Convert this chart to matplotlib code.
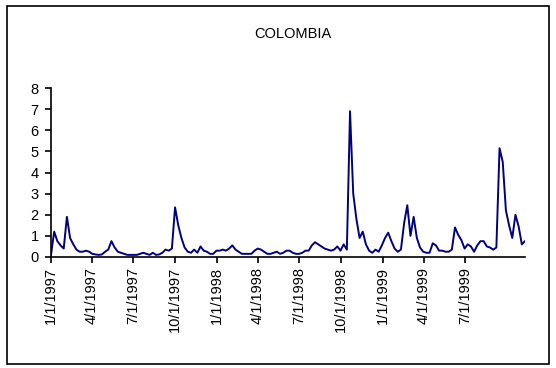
import numpy as np
import pandas as pd
import matplotlib
matplotlib.use("Agg")
import matplotlib.pyplot as plt
import matplotlib.dates as mdates
from matplotlib.patches import Rectangle

plt.rcParams['font.family'] = ['Liberation Sans', 'DejaVu Sans']

# weekly series
start_date = "1997-01-01"
values = [
    0.1, 1.2, 0.75, 0.55, 0.4, 1.9, 0.9, 0.6, 0.35, 0.25,
    0.25, 0.3, 0.25, 0.15, 0.12, 0.1, 0.12, 0.25, 0.35, 0.75,
    0.45, 0.25, 0.2, 0.15, 0.1, 0.1, 0.1, 0.1, 0.15, 0.2,
    0.15, 0.1, 0.2, 0.1, 0.12, 0.2, 0.35, 0.3, 0.4, 2.35,
    1.5, 0.9, 0.45, 0.25, 0.2, 0.35, 0.2, 0.5, 0.3, 0.25,
    0.15, 0.15, 0.3, 0.3, 0.35, 0.3, 0.4, 0.55, 0.35, 0.25,
    0.15, 0.15, 0.15, 0.15, 0.3, 0.4, 0.35, 0.25, 0.15, 0.15,
    0.2, 0.25, 0.15, 0.2, 0.3, 0.3, 0.2, 0.15, 0.15, 0.2,
    0.3, 0.3, 0.55, 0.7, 0.6, 0.5, 0.4, 0.35, 0.3, 0.35,
    0.5, 0.3, 0.6, 0.35, 6.9, 3.0, 1.8, 0.9, 1.2, 0.6,
    0.3, 0.2, 0.35, 0.25, 0.55, 0.9, 1.15, 0.75, 0.4, 0.25,
    0.35, 1.6, 2.45, 1.0, 1.9, 0.9, 0.45, 0.25, 0.2, 0.2,
    0.65, 0.55, 0.3, 0.3, 0.25, 0.25, 0.35, 1.4, 1.05, 0.8,
    0.4, 0.6, 0.5, 0.25, 0.55, 0.75, 0.75, 0.5, 0.45, 0.35,
    0.45, 5.15, 4.5, 2.2, 1.5, 0.9, 2.0, 1.45, 0.6, 0.75,
]
dates = pd.date_range(start_date, periods=len(values), freq="7D")

tick_dates = pd.date_range("1997-01-01", "1999-07-01", freq="QS")
y_ticks = list(range(0, 9))

fig = plt.figure(figsize=(5.56, 3.68), dpi=100)
fig.patches.append(Rectangle((7 / 556, 4 / 368), 542 / 556, 358 / 368,
                             transform=fig.transFigure, fill=False,
                             edgecolor="black", linewidth=1.2))

ax = fig.add_axes([51 / 556, (368 - 257) / 368, 474 / 556, 169 / 368])
ax.plot(dates, values, color="#000080", linewidth=1.4)

ax.set_xlim(pd.Timestamp("1997-01-01"), dates[-1])
ax.set_ylim(0, 8)
ax.set_yticks(y_ticks)
ax.set_xticks(tick_dates)
ax.set_xticklabels([f"{d.month}/{d.day}/{d.year}" for d in tick_dates],
                   rotation=90)
ax.tick_params(axis="both", direction="out", length=4, width=1.2,
               labelsize=10.5)
ax.tick_params(axis="y", pad=5)
ax.tick_params(axis="x", pad=3)

for side in ["top", "right"]:
    ax.spines[side].set_visible(False)
for side in ["left", "bottom"]:
    ax.spines[side].set_linewidth(1.2)

fig.text(293 / 556, 1 - 34 / 368, "COLOMBIA", ha="center", va="center",
         fontsize=10.5)

fig.savefig("out.png", dpi=100)
